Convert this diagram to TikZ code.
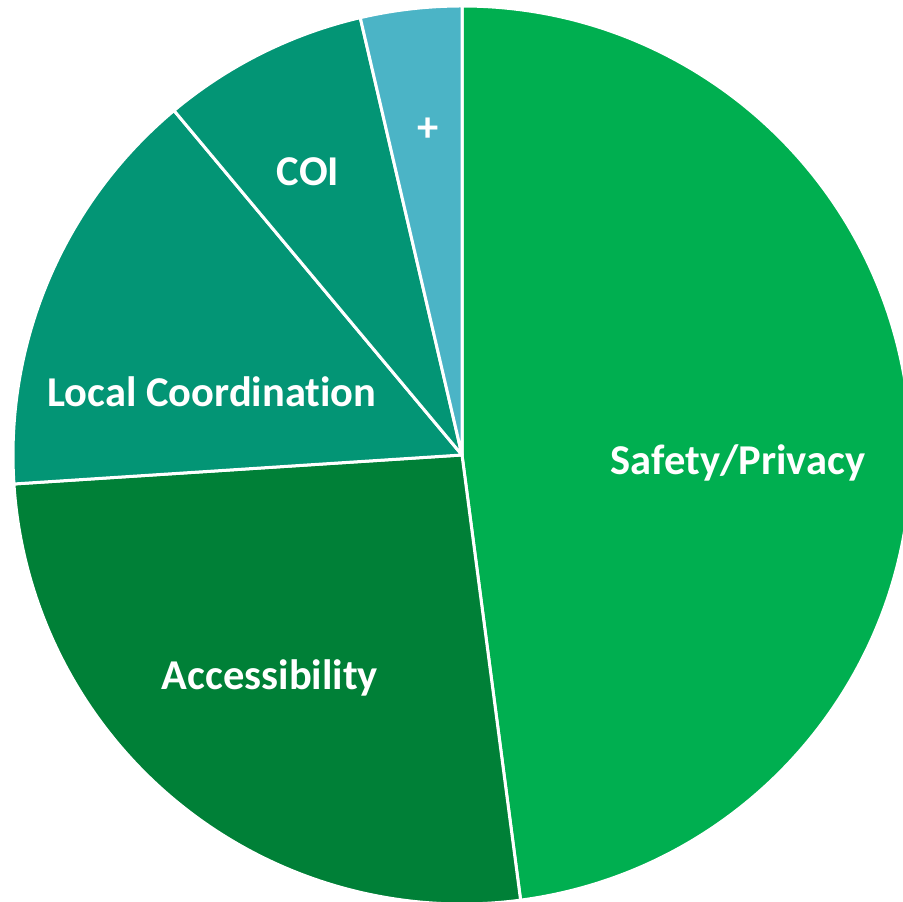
\documentclass[tikz,border=0pt]{standalone}
\usepackage{fontspec}
\setmainfont[Ligatures=NoCommon]{Carlito}
\usetikzlibrary{positioning}
\definecolor{safetygreen}{HTML}{00AF50}
\definecolor{accessgreen}{HTML}{008037}
\definecolor{coordteal}{HTML}{039575}
\definecolor{plusblue}{HTML}{4BB4C6}
\tikzstyle{Slice} = [
draw=white,
line width=3pt,
line join=round]
\tikzstyle{Label} = [
text=white,
font=\bfseries\fontsize{42.5}{50}\selectfont]

\begin{document}
\begin{tikzpicture}[x=1pt, y=1pt]
    \useasboundingbox (0,0) rectangle (903,902);
    \coordinate (O) at (462,447);
    \def\R{449}
    \filldraw[Slice, fill=safetygreen] (O) -- ++(90:\R) arc[start angle=90, end angle=-82.5, radius=\R] -- cycle;
    \filldraw[Slice, fill=accessgreen] (O) -- ++(-82.5:\R) arc[start angle=-82.5, end angle=-176.3, radius=\R] -- cycle;
    \filldraw[Slice, fill=coordteal] (O) -- ++(183.7:\R) arc[start angle=183.7, end angle=129.9, radius=\R] -- cycle;
    \filldraw[Slice, fill=coordteal] (O) -- ++(129.9:\R) arc[start angle=129.9, end angle=103.1, radius=\R] -- cycle;
    \filldraw[Slice, fill=plusblue] (O) -- ++(103.1:\R) arc[start angle=103.1, end angle=90, radius=\R] -- cycle;
    \node[Label] (safety) at (738,439) {Safety/Privacy};
    \node[Label] (access) at (270,224) {Accessibility};
    \node[Label] (local) at (212,510) {Local Coordination};
    \node[Label] (coi) at (308,730) {COI};
    \node[Label] (plus) at (428,772) {+};
\end{tikzpicture}
\end{document}
